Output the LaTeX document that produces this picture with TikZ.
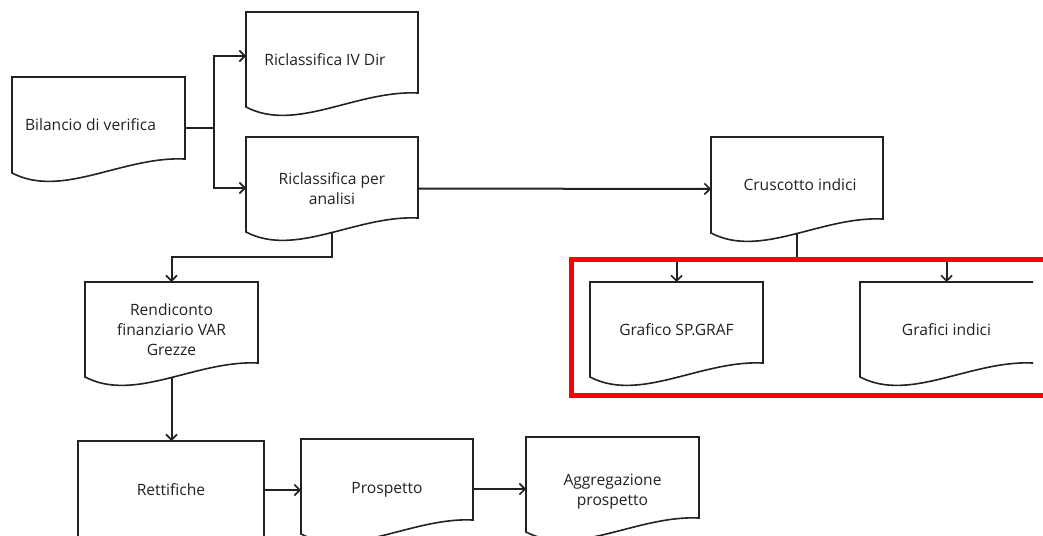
\documentclass[tikz,border=0pt]{standalone}
\usepackage{fontspec}
\setmainfont{Open Sans}
\usetikzlibrary{calc,arrows.meta}

\definecolor{ink}{HTML}{222222}
\definecolor{hilite}{HTML}{FF0000}

% Outline of a "document" shape: flat top, wavy bottom edge
\newcommand\docoutline[1]{%
  \draw[boxline] ($(#1.south east)+(0,-14)$) -- (#1.north east) -- (#1.north west) -- (#1.south west)
    .. controls ($(#1.south west)!0.29!(#1.south east)+(0,26)$)
            and ($(#1.south west)!0.64!(#1.south east)+(0,-17)$)
    .. ($(#1.south east)+(0,-14)$) -- cycle;}
% Same outline without its right-hand side
\newcommand\docoutlineopen[1]{%
  \draw[boxline] (#1.north east) -- (#1.north west) -- (#1.south west)
    .. controls ($(#1.south west)!0.29!(#1.south east)+(0,26)$)
            and ($(#1.south west)!0.64!(#1.south east)+(0,-17)$)
    .. ($(#1.south east)+(0,-14)$);}
% invisible strut that lowers a text block inside its node
\newcommand\lowerby[1]{\rule{0pt}{#1}}

\begin{document}
\begin{tikzpicture}[x=1pt,y=-1pt,
  font=\fontsize{15.6}{20}\selectfont,
  docnode/.style={inner sep=0pt, outer sep=0pt, align=center, text=ink},
  boxline/.style={draw=ink, line width=1.6pt, line join=miter},
  conn/.style={draw=ink, line width=2pt},
  arr/.style={conn, -{Straight Barb[length=5.5pt,width=11pt,line width=1.6pt]}},
  redbox/.style={draw=hilite, line width=5pt}
]
\useasboundingbox (0,0) rectangle (1043,535);
\fill[white] (0,0) rectangle (1043,535);
\clip (0,0) rectangle (1043,535);

% documents
\node[docnode, minimum width=173, minimum height=96] (B)  at (98.5,125)  {\hspace*{-16pt}Bilancio di verifica};
\node[docnode, minimum width=172, minimum height=95] (R1) at (332,59.5)  {\hspace*{-14pt}Riclassifica IV Dir};
\node[docnode, minimum width=172, minimum height=95] (R2) at (332,184.5) {\lowerby{20pt}Riclassifica per\\analisi};
\node[docnode, minimum width=172, minimum height=96] (C)  at (797,185)   {Cruscotto indici\hspace*{-6pt}};
\node[docnode, minimum width=173, minimum height=95] (G1) at (676.5,329.5) {Grafico SP.GRAF};
\node[docnode, minimum width=173, minimum height=95] (G2) at (946.5,329.5) {Grafici indici};
\node[docnode, minimum width=173, minimum height=95] (RF) at (171.5,329.5) {Rendiconto\\finanziario VAR\\Grezze};
\node[docnode, minimum width=186, minimum height=98, draw=ink, line width=1.9pt] (RT) at (171,490) {Rettifiche};
\node[docnode, minimum width=172, minimum height=95] (P)  at (387,486.5) {\lowerby{17pt}Prospetto};
\node[docnode, minimum width=173, minimum height=95] (A)  at (612.5,484.5) {\lowerby{26pt}Aggregazione\\prospetto};

\foreach \n in {B,R1,R2,C,G1,RF,P,A} {\docoutline{\n}}
\docoutlineopen{G2}

% connectors
\draw[conn] ([yshift=-3pt]B.east) -- ++(29,0) coordinate (j1);
\draw[arr] (j1) |- ([yshift=3.5pt]R1.west);
\draw[arr] (j1) |- ([yshift=-3.5pt]R2.west);
\draw[arr] ([yshift=-4pt]R2.east) -- ([yshift=-4pt]C.west);
\draw[conn] (C.south) -- ++(0,25) coordinate (j2);
\draw[arr] (j2) -| (G1.north);
\draw[arr] (j2) -| (G2.north);
\draw[arr] (R2.south) -- ++(0,25) -| (RF.north);
\draw[arr] (RF.south) -- (RF.south |- RT.north);
\draw[arr] (RT.east) -- (RT.east -| P.west);
\draw[arr] ([yshift=-2.5pt]P.east) -- ([yshift=-2.5pt]P.east -| A.west);

% highlight frame
\draw[redbox] (571.5,259.5) rectangle (1075,395.5);
\end{tikzpicture}
\end{document}
